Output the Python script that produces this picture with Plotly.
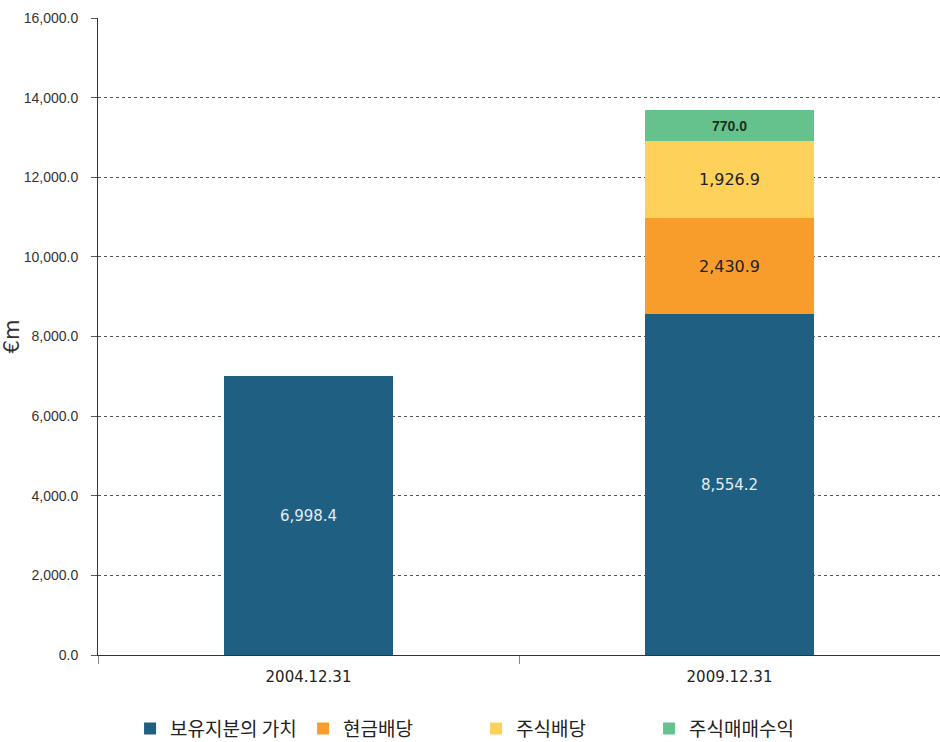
import plotly.graph_objects as go

categories = ["2004.12.31", "2009.12.31"]
series_names = ["보유지분의 가치", "현금배당", "주식배당", "주식매매수익"]
equity_value = [6998.4, 8554.2]
cash_dividend = [None, 2430.9]
stock_dividend = [None, 1926.9]
trading_gain = [None, 770.0]
colors = ["#1E5F82", "#F89D2C", "#FED15A", "#66C28D"]
y_ticks = [0, 2000, 4000, 6000, 8000, 10000, 12000, 14000, 16000]

series_values = [equity_value, cash_dividend, stock_dividend, trading_gain]
text_fonts = [
    dict(family="DejaVu Sans", size=15, color="#E4ECF2"),
    dict(family="DejaVu Sans", size=16, color="#222222"),
    dict(family="DejaVu Sans", size=16, color="#222222"),
    dict(family="Liberation Sans", size=14, color="#17311F", weight="bold"),
]

fig = go.Figure()
for name, vals, col, tf in zip(series_names, series_values, colors, text_fonts):
    fig.add_trace(go.Bar(
        x=categories, y=vals, name=name,
        marker=dict(color=col, line=dict(width=0)),
        width=0.4,
        text=[("" if v is None else f"{v:,.1f}") for v in vals],
        textposition="inside", insidetextanchor="middle",
        textfont=tf, textangle=0,
        hoverinfo="skip",
    ))

fig.update_layout(
    barmode="stack",
    width=940, height=742,
    margin=dict(l=98, r=0, t=18, b=87, autoexpand=False),
    plot_bgcolor="white", paper_bgcolor="white",
    legend=dict(
        orientation="h", x=0.449, xanchor="center",
        yref="container", y=0.018, yanchor="middle",
        font=dict(family="Noto Sans CJK KR", size=19, color="#222222"),
        entrywidth=128, traceorder="normal",
    ),
    showlegend=True,
)
fig.update_yaxes(
    range=[0, 16000], tickvals=y_ticks, tickformat=",.1f",
    showgrid=True, gridcolor="#555555", griddash="dot", gridwidth=1,
    showline=True, linecolor="#333333", linewidth=1,
    ticks="outside", ticklen=6, tickcolor="#555555",
    ticklabelstandoff=10, automargin=False,
    tickfont=dict(family="Liberation Sans Narrow, Arial Narrow, Liberation Sans", size=14, color="#333333"),
    title=dict(text="€m", font=dict(family="DejaVu Sans", size=21, color="#333333"), standoff=8),
    zeroline=False,
)
fig.update_xaxes(
    showline=True, linecolor="#333333", linewidth=1,
    ticks="outside", tickson="boundaries", ticklen=8, tickcolor="#888888",
    ticklabelstandoff=8, automargin=False,
    tickfont=dict(family="DejaVu Sans", size=15, color="#222222"),
)

fig.write_html("out.html")
